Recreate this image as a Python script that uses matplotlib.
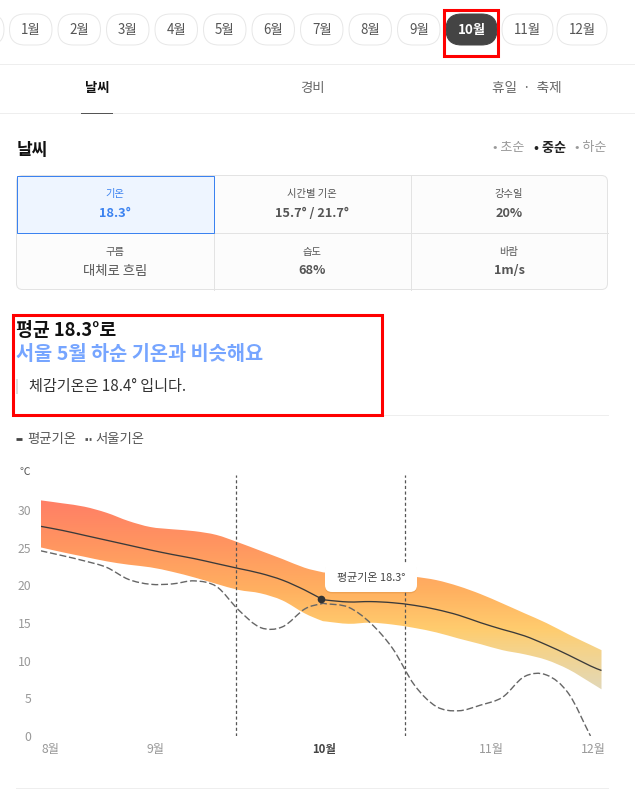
import numpy as np
import matplotlib
matplotlib.use('Agg')
import matplotlib.pyplot as plt
import matplotlib.patheffects as pe
from matplotlib.colors import LinearSegmentedColormap
from matplotlib.patches import FancyBboxPatch, PathPatch, Rectangle
from matplotlib.path import Path

plt.rcParams['font.family'] = ['Noto Sans CJK KR', 'DejaVu Sans']

# days counted from Aug 11
days = [0, 4, 8, 12, 16, 20, 24, 28, 32, 36, 40, 44, 48, 51, 52, 56, 60, 64,
        68, 72, 76, 80, 84, 88, 92, 96, 100, 102]
temp_high = [31.3, 30.9, 30.45, 29.65, 28.55, 27.75, 27.45, 27.2, 26.7, 25.7,
             24.6, 23.5, 22.35, 21.8, 21.7, 21.6, 21.5, 21.4, 21.15, 20.7,
             19.9, 18.85, 17.6, 16.3, 15.0, 13.5, 12.1, 11.4]
temp_low = [25.05, 24.4, 23.8, 23.2, 22.75, 22.4, 21.8, 21.05, 20.2, 19.4,
            18.95, 18.0, 16.3, 15.35, 15.2, 14.9, 15.05, 14.8, 14.35, 13.75,
            12.95, 12.2, 11.4, 10.85, 10.1, 8.85, 7.1, 6.2]
temp_avg = [27.85, 27.3, 26.65, 26.0, 25.35, 24.7, 24.1, 23.55, 22.9, 22.25,
            21.6, 20.7, 19.4, 18.25, 18.05, 17.8, 17.85, 17.7, 17.35, 16.8,
            16.05, 15.05, 14.15, 13.3, 12.1, 10.75, 9.3, 8.7]
seoul_days = days[:-1]
temp_seoul = [24.6, 23.95, 23.25, 22.4, 20.8, 20.15, 20.2, 20.6, 19.85, 16.75,
              14.4, 14.5, 16.85, 17.55, 17.55, 17.1, 15.0, 11.65, 6.75, 3.9,
              3.35, 4.1, 5.15, 7.9, 8.1, 5.65, 0.0]

y_ticks = [0, 5, 10, 15, 20, 25, 30]
x_tick_days = [1.9, 20.9, 51.5, 82, 100.6]
x_tick_labels = ['8월', '9월', '10월', '11월', '12월']
period_days = [35.6, 66.2]
today_day = 51
today_temp = 18.25

months = ['1월', '2월', '3월', '4월', '5월', '6월', '7월', '8월', '9월', '10월', '11월', '12월']
month_left = [9.5, 58, 106.5, 155, 203.5, 252, 300.5, 349, 397.5, 446, 502, 557]
month_right = [52, 100.5, 149, 197.5, 246, 294.5, 343, 391.5, 440, 497, 553, 607]

cells = [('기온', '18.3°'), ('시간별 기온', '15.7° / 21.7°'), ('강수일', '20%'),
         ('구름', '대체로 흐림'), ('습도', '68%'), ('바람', '1m/s')]

W, H = 635, 789
PX = 0.72
fig = plt.figure(figsize=(W / 100, H / 100), dpi=100)


def px_axes(z):
    a = fig.add_axes([0, 0, 1, 1], zorder=z)
    a.set_xlim(0, W)
    a.set_ylim(H, 0)
    a.axis('off')
    return a


def curve(xs, ys):
    # smooth line through the points, as bezier segments
    p = np.column_stack([xs, ys]).astype(float)
    t = np.gradient(p, axis=0)
    verts = [p[0]]
    codes = [Path.MOVETO]
    for i in range(len(p) - 1):
        verts += [p[i] + t[i] / 3, p[i + 1] - t[i + 1] / 3, p[i + 1]]
        codes += [Path.CURVE4] * 3
    return verts, codes


ui = px_axes(0)

# month pills
ui.add_patch(FancyBboxPatch((-30, 14), 34, 31, boxstyle='round,pad=0,rounding_size=15.5',
                            fc='white', ec='#e8e8e8', lw=PX))
for m, l, r in zip(months, month_left, month_right):
    on = m == '10월'
    ui.add_patch(FancyBboxPatch((l, 14), r - l, 31, boxstyle='round,pad=0,rounding_size=15.5',
                                fc='#444444' if on else 'white', ec='#444444' if on else '#e8e8e8', lw=PX))
    ui.text((l + r) / 2, 30, m, ha='center', va='center', fontsize=9.6,
            color='white' if on else '#555555', fontweight='bold' if on else 'normal')

# tabs
ui.plot([0, W], [63.5, 63.5], color='#eeeeee', lw=PX)
ui.plot([0, W], [112.5, 112.5], color='#eeeeee', lw=PX)
ui.plot([81, 112], [112.5, 112.5], color='#555555', lw=PX)
ui.text(97, 87.5, '날씨', ha='center', va='center', fontsize=9.6, fontweight='bold', color='#111111')
ui.text(312, 87.5, '경비', ha='center', va='center', fontsize=9.6, color='#666666')
ui.text(527, 87.5, '휴일  ·  축제', ha='center', va='center', fontsize=9.8, color='#666666')

# heading
ui.text(16.5, 149.5, '날씨', ha='left', va='center', fontsize=12.2, fontweight='bold', color='#111111')
ui.text(493, 147.5, '• 초순', ha='left', va='center', fontsize=9.4, color='#999999')
ui.text(534, 147.5, '• 중순', ha='left', va='center', fontsize=9.4, color='#222222', fontweight='bold')
ui.text(575, 147.5, '• 하순', ha='left', va='center', fontsize=9.4, color='#999999')

# info table
ui.add_patch(FancyBboxPatch((16.5, 175.5), 591, 114, boxstyle='round,pad=0,rounding_size=6',
                            fc='#fcfcfc', ec='#e3e3e3', lw=PX))
ui.plot([16.5, 607.5], [232.5, 232.5], color='#e3e3e3', lw=PX)
ui.plot([213.5, 213.5], [175.5, 289.5], color='#e3e3e3', lw=PX)
ui.plot([410.5, 410.5], [175.5, 289.5], color='#e3e3e3', lw=PX)
ui.add_patch(Rectangle((16.5, 175.5), 197, 57, fc='#eef5ff', ec='#3b82f0', lw=PX, zorder=3))
for i, (name, val) in enumerate(cells):
    cx = [115, 312, 509][i % 3]
    top = 0 if i < 3 else 57.5
    col = '#3b82f0' if i == 0 else '#555555'
    ui.text(cx, 194 + top, name, ha='center', va='center', fontsize=7.4, color=col, zorder=4)
    ui.text(cx, 213.5 + top, val, ha='center', va='center', fontsize=9.2 if i != 3 else 9.6,
            color=col, fontweight='bold' if i != 3 else 'medium', zorder=4)

# summary
ui.plot([383, 608], [414.5, 414.5], color='#eeeeee', lw=PX)
ui.text(16, 330.5, '평균 18.3°로', ha='left', va='center', fontsize=13.2, fontweight='bold', color='#111111')
ui.text(16, 354.5, '서울 5월 하순 기온과 비슷해요', ha='left', va='center', fontsize=14.2, fontweight='bold', color='#76a5ff')
ui.add_patch(Rectangle((16, 379), 1.5, 15, fc='#dddddd', ec='none'))
ui.text(29, 386.5, '체감기온은 18.4° 입니다.', ha='left', va='center', fontsize=10.9, color='#333333')

# legend
ui.plot([16, 22], [438.5, 438.5], color='#444444', lw=2, solid_capstyle='butt')
ui.text(27, 438.5, '평균기온', ha='left', va='center', fontsize=9.6, color='#555555')
ui.plot([85, 90.5], [438.5, 438.5], color='#555555', lw=2, dashes=(0.9, 0.6))
ui.text(95, 438.5, '서울기온', ha='left', va='center', fontsize=9.6, color='#555555')
ui.text(19, 472, '℃', ha='left', va='center', fontsize=7.6, color='#555555')
ui.plot([16, 608], [787.5, 787.5], color='#eeeeee', lw=PX)

# chart
left, right, top, bottom = 40.5, 601.5, 475, 736
ax = fig.add_axes([left / W, 1 - bottom / H, (right - left) / W, (bottom - top) / H], zorder=1)
ax.patch.set_alpha(0)
ymax = (bottom - top) / 7.53

cmap = LinearSegmentedColormap.from_list('band', [(0, '#ff7b66'), (0.1, '#ff7f66'), (0.27, '#ff9660'),
                                                  (0.44, '#ffb060'), (0.59, '#ffcc6e'), (0.67, '#f5d38a'),
                                                  (0.82, '#e2d8b8'), (1, '#e2d8b8')])
grad = np.linspace(0, 1, 256).reshape(-1, 1)
im = ax.imshow(grad, extent=[days[0], days[-1], 0, ymax], origin='upper', aspect='auto', cmap=cmap, zorder=1)
v1, c1 = curve(days, temp_high)
v2, c2 = curve(days[::-1], temp_low[::-1])
c2[0] = Path.LINETO
band = PathPatch(Path(v1 + v2 + [v1[0]], c1 + c2 + [Path.LINETO]), transform=ax.transData)
im.set_clip_path(band)

for d in period_days:
    ax.plot([d, d], [0, ymax], color='#555555', lw=0.9, dashes=(2.5, 2), zorder=2)

v, c = curve(seoul_days, temp_seoul)
ax.add_patch(PathPatch(Path(v, c), fc='none', ec='#666666', lw=1.0, linestyle=(0, (5, 2)), zorder=3))
v, c = curve(days, temp_avg)
ax.add_patch(PathPatch(Path(v, c), fc='none', ec='#3a3a3a', lw=0.95, zorder=4))
ax.plot([today_day], [today_temp], 'o', ms=5.5, color='#333333', mec='none', zorder=5)

ax.set_xlim(days[0], days[-1])
ax.set_ylim(0, ymax)
ax.set_yticks(y_ticks)
ax.set_xticks(x_tick_days)
ax.set_xticklabels(x_tick_labels)
ax.tick_params(length=0, labelsize=8.8, labelcolor='#999999')
ax.tick_params(axis='y', pad=6.5)
ax.tick_params(axis='x', pad=5)
ax.get_xticklabels()[2].set_fontweight('bold')
ax.get_xticklabels()[2].set_fontsize(8.2)
ax.get_xticklabels()[2].set_color('#444444')
for s in ax.spines.values():
    s.set_visible(False)

# tooltip on top of the chart
over = px_axes(2)
box = FancyBboxPatch((325, 563), 92, 29, boxstyle='round,pad=0,rounding_size=7', fc='white', ec='none')
box.set_path_effects([pe.SimplePatchShadow(offset=(0, -1), shadow_rgbFace='#b06a20', alpha=0.2), pe.Normal()])
over.add_patch(box)
over.text(371, 577.5, '평균기온 18.3°', ha='center', va='center', fontsize=7.9, color='#444444')

# red boxes are part of the screenshot
over.add_patch(Rectangle((443.5, 9.5), 54, 46, fc='none', ec='#ff0000', lw=2.2))
over.add_patch(Rectangle((13, 315), 369, 100, fc='none', ec='#ff0000', lw=2.2))

fig.savefig('out.png', dpi=100)
